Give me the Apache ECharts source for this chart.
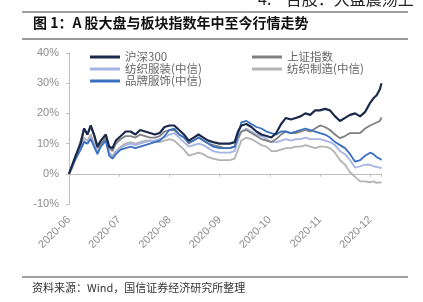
<!DOCTYPE html>
<html><head><meta charset="utf-8">
<script src="https://cdn.jsdelivr.net/npm/echarts@6/dist/echarts.min.js"></script>
<style>html,body{margin:0;padding:0;background:#fff}#c{width:423px;height:302px}</style>
</head><body><div id="c"></div>
<script>
const monthLabels = ['2020-06','2020-07','2020-08','2020-09','2020-10','2020-11','2020-12'];
const dates = ['2020-06-01','2020-06-03','2020-06-05','2020-06-08','2020-06-10','2020-06-12','2020-06-14','2020-06-16','2020-06-18','2020-06-20',
'2020-06-23','2020-06-25','2020-06-27','2020-06-29','2020-07-02','2020-07-05','2020-07-08','2020-07-11','2020-07-14','2020-07-17',
'2020-07-20','2020-07-23','2020-07-26','2020-07-29','2020-08-01','2020-08-04','2020-08-07','2020-08-10','2020-08-13','2020-08-16',
'2020-08-19','2020-08-22','2020-08-25','2020-08-28','2020-09-01','2020-09-04','2020-09-07','2020-09-10','2020-09-12','2020-09-14',
'2020-09-17','2020-09-20','2020-09-23','2020-09-26','2020-09-29','2020-10-02','2020-10-05','2020-10-08','2020-10-11','2020-10-14',
'2020-10-17','2020-10-20','2020-10-23','2020-10-26','2020-10-29','2020-11-01','2020-11-04','2020-11-07','2020-11-10','2020-11-13',
'2020-11-16','2020-11-19','2020-11-22','2020-11-25','2020-11-28','2020-12-01','2020-12-03','2020-12-05','2020-12-07','2020-12-08'];
const hs300 = [0,3,6,10,15,13,16,13,9,11, 13,9,8.5,11,12.5,14,14,13,14.5,14, 13.5,13,13.5,15.5,16,16,14.5,13,11,12,
 13,12,11,10.5,10,10,10,10.5,14,16, 16.5,15.5,14,13,12.5,12,13.5,16.5,18.5,18, 18.5,19,20,19.5,21,21,21.5,21,19,17.5,
 18.5,19.5,20,19,20.5,23.5,25,26,28,30];
const shIndex = [0,3,6,11,15,13,15.5,12.5,8.5,10, 12,8.5,7.5,10,11.5,12.5,12.5,12,13,12.5, 12,12,12.5,14,14.5,14.5,13,12,10,11,
 12,11,10,9.5,9,8.5,8.5,9,12,14, 14.5,13.5,12.5,11.5,11,10.5,11.5,13,14,13.5, 13.5,14,14.5,14,15,16,15.5,14.5,13,11.8,
 12.5,13.5,13.5,13.5,15,16,16.5,17,17.5,18.7];
const textileApparel = [0,2.5,5,8.5,11,10,12,9.5,7,9.5, 11.5,7,5.5,7,8.5,9.5,10,9.5,10,10.5, 11,11,11.5,12,13,13.5,12,10.5,9,9.5,
 10,9.5,8.5,7.5,7,7,7,7.5,11,14, 15,14,13,12.5,11.5,10.5,10.5,11,11.5,11, 11.5,11.5,12,11.5,11.5,11.5,11,10.5,9.5,7.5,
 6.5,4.5,2,2.5,3,3,2.5,2.3,2,2];
const textileMfg = [0,2,5,9,12,11,13,10,7,9.5, 11,7,6,7.5,9,10,10.5,10,10.5,11, 11,10.5,10.5,11,11.5,11,9.5,8,6,6.5,
 7,6.5,5.5,5,4.5,4.5,4.5,5,8,11, 12,11.5,10.5,9.5,9,7.5,7.5,8,8.5,8.5, 9,9,9.5,9,8.5,9,9,8.5,7,4.5,
 3,0.5,-1,-2.5,-2.5,-2.8,-2.5,-3,-2.8,-3];
const brandApparel = [0,2.5,5,8,10.5,10,11.5,9,6.5,9, 11,6,5,6.5,8,8.5,9,8.5,9,9.5, 10,10.5,11,12.5,14.5,15,13,12,10.5,11,
 12,11,10,9,8.5,8.5,8.5,9,13,17, 17.5,16.5,15.5,15,14,13.5,13,14,14,13.5, 14,14.5,15,14.5,14,13.5,13,12,10.5,9.5,
 8.5,6.5,4,4.5,6,7,6.5,5.5,5,4.6];
const yTicks = [-10,0,10,20,30,40];

function monthPos(d){
  const [y,m,day] = d.split('-').map(Number);
  const dim = new Date(y, m, 0).getDate();
  return (m-6) + (day-1)/dim;
}
const xs = dates.map(monthPos);
const pair = arr => arr.map((v,i)=>[xs[i], v]);
const xMax = xs[xs.length-1];

const chart = echarts.init(document.getElementById('c'), null, {renderer:'canvas'});
const font = '"Noto Sans CJK SC", "Liberation Sans", sans-serif';
const mk = (name, data, color, width, z) => ({
  name, type:'line', data: pair(data), symbol:'none', z,
  lineStyle:{color, width}, itemStyle:{color}, xAxisIndex:0, animation:false
});
chart.setOption({
  animation:false,
  textStyle:{fontFamily:font},
  grid:{left:69, right:41.5, top:53, bottom:98},
  legend:[
    {left:85, top:46, orient:'vertical', itemGap:0, itemWidth:30, itemHeight:3, icon:'rect',
     data:['沪深300','纺织服装(中信)','品牌服饰(中信)'],
     textStyle:{fontSize:11.5, color:'#666', lineHeight:12, fontFamily:font}},
    {left:247, top:46, orient:'vertical', itemGap:0, itemWidth:30, itemHeight:3, icon:'rect',
     data:['上证指数','纺织制造(中信)'],
     textStyle:{fontSize:11.5, color:'#666', lineHeight:12, fontFamily:font}}
  ],
  xAxis:[
    {type:'value', min:0, max:xMax, interval:1,
     axisLine:{show:true, onZero:true, lineStyle:{color:'#bfbfbf', width:1}},
     axisTick:{show:true, length:3, lineStyle:{color:'#bfbfbf'}},
     axisLabel:{show:false}, splitLine:{show:false}},
    {type:'value', min:0, max:xMax, interval:1, position:'bottom',
     axisLine:{show:false, onZero:false}, axisTick:{show:false}, splitLine:{show:false},
     axisLabel:{show:true, rotate:45, margin:14, fontSize:11, color:'#8c8c8c', fontFamily:'"Liberation Sans", Arial, sans-serif',
       showMaxLabel:false,
       formatter: v => (Math.abs(v-Math.round(v))<1e-6 && monthLabels[Math.round(v)]) ? monthLabels[Math.round(v)] : ''}}
  ],
  yAxis:{type:'value', min:yTicks[0], max:yTicks[yTicks.length-1], interval:10,
    axisLine:{show:true, lineStyle:{color:'#bfbfbf'}},
    axisTick:{show:true, length:3, lineStyle:{color:'#bfbfbf'}},
    axisLabel:{formatter:'{value}%', fontSize:11, color:'#8c8c8c', margin:10, fontFamily:'"Liberation Sans", Arial, sans-serif'},
    splitLine:{show:false}},
  series:[
    mk('沪深300', hs300, '#1b2a4a', 2.2, 10),
    mk('上证指数', shIndex, '#808080', 1.8, 6),
    mk('纺织服装(中信)', textileApparel, '#a4b4e4', 1.8, 4),
    mk('纺织制造(中信)', textileMfg, '#b3b3b3', 1.8, 3),
    mk('品牌服饰(中信)', brandApparel, '#3a6fc0', 1.8, 8)
  ],
  graphic:[
    {type:'text', left:258, top:-9, style:{text:'4.    告股：大盘震荡上', fontSize:16, fill:'#222', fontFamily:font}},
    {type:'rect', shape:{x:22, y:11.5, width:386, height:1}, style:{fill:'#444'}},
    {type:'text', left:33, top:16, style:{text:'图 1：A 股大盘与板块指数年中至今行情走势', fontSize:14, fontWeight:'bold', fill:'#111', fontFamily:font}},
    {type:'rect', shape:{x:22, y:38, width:386, height:2}, style:{fill:'#9a9a9a'}},
    {type:'rect', shape:{x:22, y:276.5, width:386, height:1}, style:{fill:'#444'}},
    {type:'text', left:32, top:282, style:{text:'资料来源：Wind，国信证券经济研究所整理', fontSize:11, fill:'#333', fontFamily:font}}
  ]
});
</script></body></html>
